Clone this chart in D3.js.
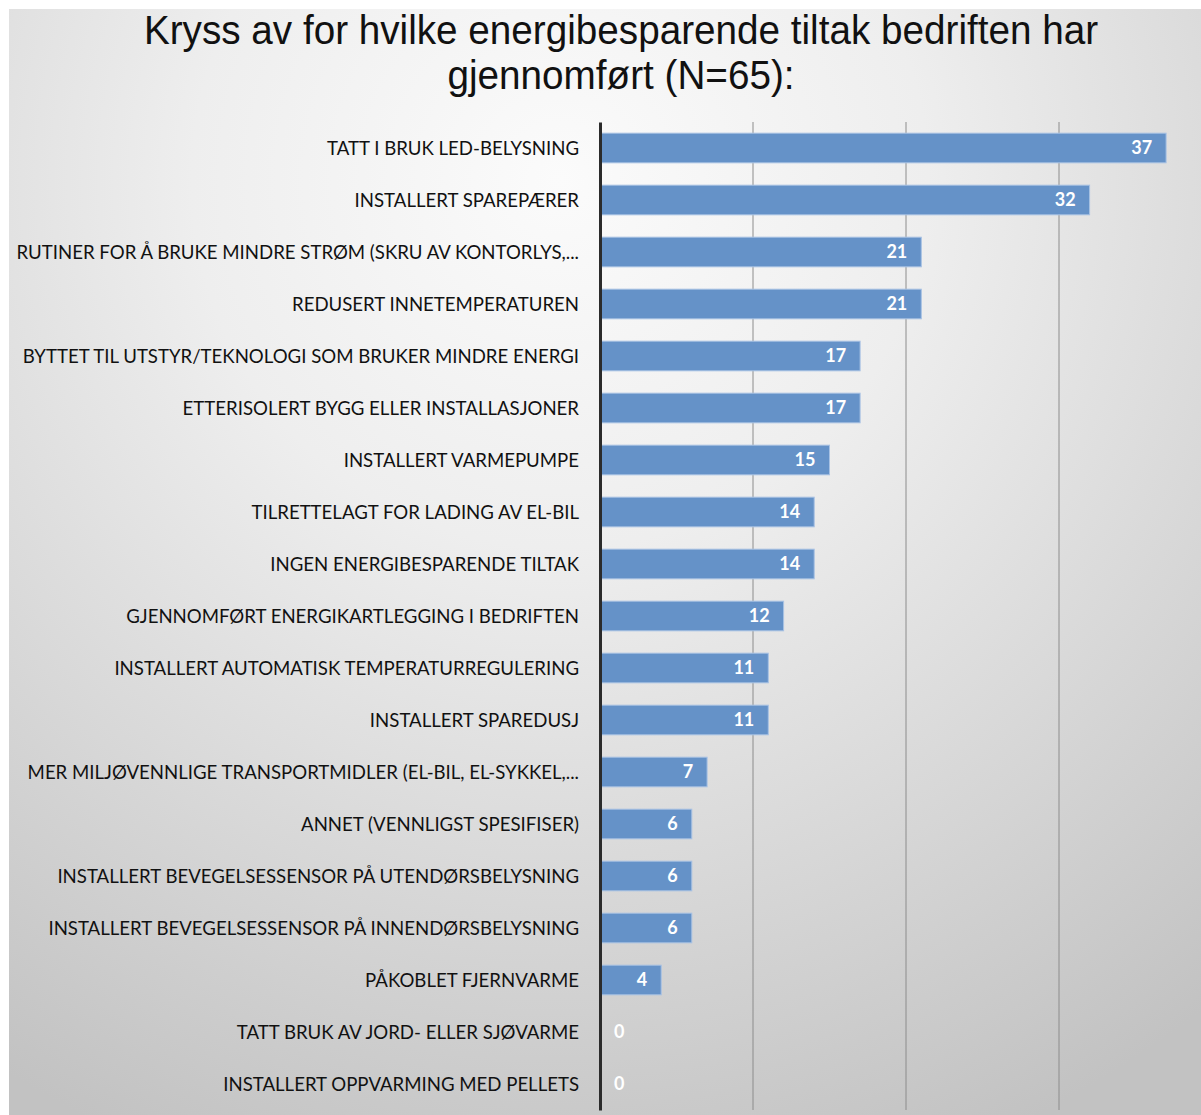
<!DOCTYPE html>
<html>
<head>
<meta charset="utf-8">
<script src="https://cdn.jsdelivr.net/npm/d3@7"></script>
<style>
  html, body { margin: 0; padding: 0; background: #ffffff; }
  svg { display: block; }
</style>
</head>
<body>
<svg id="chart" width="1201" height="1115"></svg>
<script>
// Energy-saving measures reported by the companies (N=65)
const categories = [
  "TATT I BRUK LED-BELYSNING",
  "INSTALLERT SPAREPÆRER",
  "RUTINER FOR Å BRUKE MINDRE STRØM (SKRU AV KONTORLYS,...",
  "REDUSERT INNETEMPERATUREN",
  "BYTTET TIL UTSTYR/TEKNOLOGI SOM BRUKER MINDRE ENERGI",
  "ETTERISOLERT BYGG ELLER INSTALLASJONER",
  "INSTALLERT VARMEPUMPE",
  "TILRETTELAGT FOR LADING AV EL-BIL",
  "INGEN ENERGIBESPARENDE TILTAK",
  "GJENNOMFØRT ENERGIKARTLEGGING I BEDRIFTEN",
  "INSTALLERT AUTOMATISK TEMPERATURREGULERING",
  "INSTALLERT SPAREDUSJ",
  "MER MILJØVENNLIGE TRANSPORTMIDLER (EL-BIL, EL-SYKKEL,...",
  "ANNET (VENNLIGST SPESIFISER)",
  "INSTALLERT BEVEGELSESSENSOR PÅ UTENDØRSBELYSNING",
  "INSTALLERT BEVEGELSESSENSOR PÅ INNENDØRSBELYSNING",
  "PÅKOBLET FJERNVARME",
  "TATT BRUK AV JORD- ELLER SJØVARME",
  "INSTALLERT OPPVARMING MED PELLETS"
];
const counts = [37, 32, 21, 21, 17, 17, 15, 14, 14, 12, 11, 11, 7, 6, 6, 6, 4, 0, 0];
const gridTicks = [10, 20, 30];
const titleLines = [
  "Kryss av for hvilke energibesparende tiltak bedriften har",
  "gjennomført (N=65):"
];

const W = 1201, H = 1115;
const svg = d3.select("#chart");
const defs = svg.append("defs");

// soft slide background: light centre fading to grey edges
const grad = defs.append("radialGradient")
  .attr("id", "bg")
  .attr("gradientUnits", "userSpaceOnUse")
  .attr("cx", 560).attr("cy", 180).attr("r", 1050);
grad.append("stop").attr("offset", "0%").attr("stop-color", "#fbfbfb");
grad.append("stop").attr("offset", "35%").attr("stop-color", "#eeeeee");
grad.append("stop").attr("offset", "100%").attr("stop-color", "#c2c2c2");

svg.append("rect")
  .attr("x", 9).attr("y", 9)
  .attr("width", W - 9).attr("height", H - 9)
  .attr("fill", "url(#bg)");

// title
const title = svg.append("g").attr("class", "title");
title.selectAll("text")
  .data(titleLines)
  .join("text")
  .attr("x", 0)
  .attr("y", (d, i) => i * 45)
  .attr("text-anchor", "middle")
  .attr("font-family", "Liberation Sans, Arial, sans-serif")
  .attr("font-size", 40)
  .attr("fill", "#111")
  .text(d => d);
title.attr("transform", "translate(621,44) scale(0.967,1)");

// plot scales
const x0 = 600, y0 = 122, y1 = 1110;
const x = d3.scaleLinear().domain([0, 10]).range([x0, x0 + 153]);
const y = d3.scaleBand()
  .domain(categories)
  .range([y0, y1])
  .paddingInner(0.43)
  .paddingOuter(0.215);

// vertical gridlines
svg.append("g")
  .selectAll("line")
  .data(gridTicks)
  .join("line")
  .attr("x1", d => x(d)).attr("x2", d => x(d))
  .attr("y1", y0).attr("y2", y1)
  .attr("stroke", "#8c8c8c")
  .attr("stroke-width", 1);

// bars
svg.append("g")
  .selectAll("rect")
  .data(counts)
  .join("rect")
  .attr("x", x(0))
  .attr("y", (d, i) => y(categories[i]))
  .attr("width", d => x(d) - x(0))
  .attr("height", y.bandwidth())
  .attr("fill", "#6592c8")
  .attr("stroke", d => d > 0 ? "#a8c2e4" : "none")
  .attr("stroke-width", 1);

// category axis
const yAxis = d3.axisLeft(y).tickSize(0).tickPadding(21);
const ax = svg.append("g")
  .attr("transform", `translate(${x0},0)`)
  .call(yAxis);
ax.select(".domain")
  .attr("stroke", "#2b2b2b")
  .attr("stroke-width", 3);
ax.selectAll(".tick text")
  .attr("font-family", "Lato, 'Open Sans', sans-serif")
  .attr("font-size", 19)
  .attr("fill", "#111")
  .attr("dy", "0.35em");

// condense axis labels slightly, keeping the right edge fixed
ax.selectAll(".tick text").each(function () {
  const xr = -21;
  d3.select(this)
    .attr("transform", `translate(${xr},0) scale(0.98,1) translate(${-xr},0)`);
});

// value labels inside bar ends
svg.append("g")
  .selectAll("text")
  .data(counts)
  .join("text")
  .attr("x", d => d > 0 ? x(d) - 14 : x(0) + 14)
  .attr("y", (d, i) => y(categories[i]) + y.bandwidth() / 2)
  .attr("dy", "0.36em")
  .attr("text-anchor", d => d > 0 ? "end" : "start")
  .attr("font-family", "Lato, 'Open Sans', sans-serif")
  .attr("font-weight", "bold")
  .attr("font-size", 18)
  .attr("fill", "#ffffff")
  .text(d => d);
</script>
</body>
</html>
